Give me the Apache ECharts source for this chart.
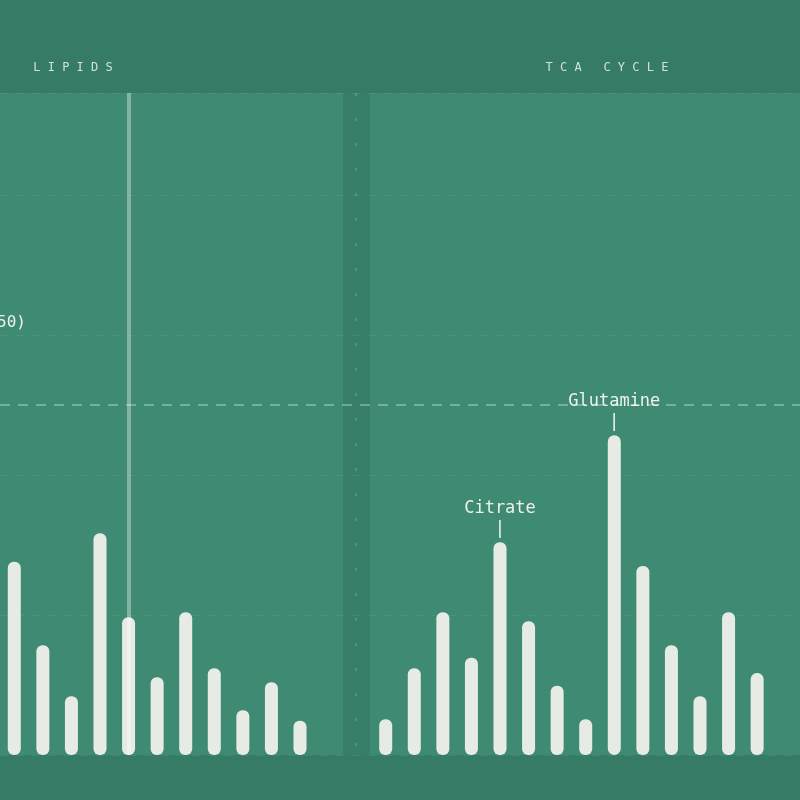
<!DOCTYPE html>
<html>
<head>
<meta charset="utf-8">
<script src="https://cdn.jsdelivr.net/npm/echarts@6/dist/echarts.min.js"></script>
<style>html,body{margin:0;background:#3f8a72}</style>
</head>
<body>
<div id="chart" style="width:800px;height:800px;"></div>
<script>
// slots along the x axis; 'gap' slots form the separator between groups
var categories = ['L1','L2','L3','L4','L5','L6','L7','L8','L9','L10','L11','gap1','gap2',
                  'T1','T2','T3','T4','Citrate','T6','T7','T8','Glutamine','T10','T11','T12','T13','T14','T15'];
var values = [27.6, 15.7, 8.4, 31.7, 19.7, 11.1, 20.4, 12.4, 6.4, 10.4, 4.9, '-', '-',
              5.1, 12.4, 20.4, 13.9, 30.4, 19.1, 9.9, 5.1, 45.7, 27, 15.7, 8.4, 20.4, 11.7, '-'];
var labelled = ['Citrate', 'Glutamine'];
var threshold = 50;
var highlight = 'L5';

var chart = echarts.init(document.getElementById('chart'));
var font = 'DejaVu Sans Mono';

var data = values.map(function (v, i) {
    var d = { value: v };
    if (labelled.indexOf(categories[i]) >= 0) {
        d.label = {
            show: true, position: 'top', distance: 4,
            formatter: '{a|' + categories[i] + '}\n{b||}',
            rich: {
                a: { fontFamily: font, fontSize: 17, color: '#eef2ee', lineHeight: 24 },
                b: { fontFamily: font, fontSize: 18, color: '#eef2ee', lineHeight: 18 }
            }
        };
    }
    if (categories[i] === 'Glutamine') d.itemStyle = { borderWidth: 5, borderColor: '#e6ebe6' };
    return d;
});

var s = 30.7;
var gl = 5 - s / 2;
var gr = 800 - (gl + s * categories.length);
chart.setOption({
    backgroundColor: '#3f8a72',
    animation: false,
    graphic: [
        { type: 'rect', shape: { x: 0, y: 0, width: 800, height: 93 }, style: { fill: '#357b65' }, z: 0 },
        { type: 'rect', shape: { x: 0, y: 755, width: 800, height: 45 }, style: { fill: '#357b65' }, z: 0 },
        { type: 'rect', shape: { x: 343, y: 93, width: 27, height: 662 }, style: { fill: '#377f68' }, z: 0 },
        { type: 'line', shape: { x1: 356, y1: 93, x2: 356, y2: 755 }, style: { stroke: 'rgba(255,255,255,0.15)', lineWidth: 2, lineDash: [3, 22] }, z: 1 },
        { type: 'text', x: 73, y: 68, style: { text: 'L I P I D S', font: '12px ' + font, fill: '#cfe2d9', align: 'center', verticalAlign: 'middle' }, z: 5 },
        { type: 'text', x: 607, y: 68, style: { text: 'T C A   C Y C L E', font: '12px ' + font, fill: '#cfe2d9', align: 'center', verticalAlign: 'middle' }, z: 5 },
        { type: 'text', x: 26, y: 323, style: { text: '(≥' + threshold + ')', font: '16px ' + font, fill: '#eef2ee', align: 'right', verticalAlign: 'middle' }, z: 5 }
    ],
    grid: { left: gl, top: 93, right: gr, bottom: 45 },
    xAxis: {
        type: 'category', data: categories,
        axisLine: { show: false }, axisTick: { show: false }, axisLabel: { show: false }
    },
    yAxis: {
        type: 'value', min: 0, max: 94.6, interval: 20,
        axisLabel: { show: false }, axisLine: { show: false }, axisTick: { show: false },
        splitLine: { lineStyle: { color: 'rgba(255,255,255,0.07)', type: [8, 8] } }
    },
    series: [{
        type: 'bar', data: data, barWidth: 13,
        itemStyle: { color: '#e6ebe6', borderRadius: 6 },
        markLine: {
            symbol: 'none', silent: true, label: { show: false },
            data: [
                { yAxis: threshold, lineStyle: { color: 'rgba(255,255,255,0.3)', type: [10, 8], width: 2 } },
                { xAxis: highlight, lineStyle: { color: 'rgba(255,255,255,0.35)', type: 'solid', width: 4 } }
            ]
        }
    }]
});
</script>
</body>
</html>
